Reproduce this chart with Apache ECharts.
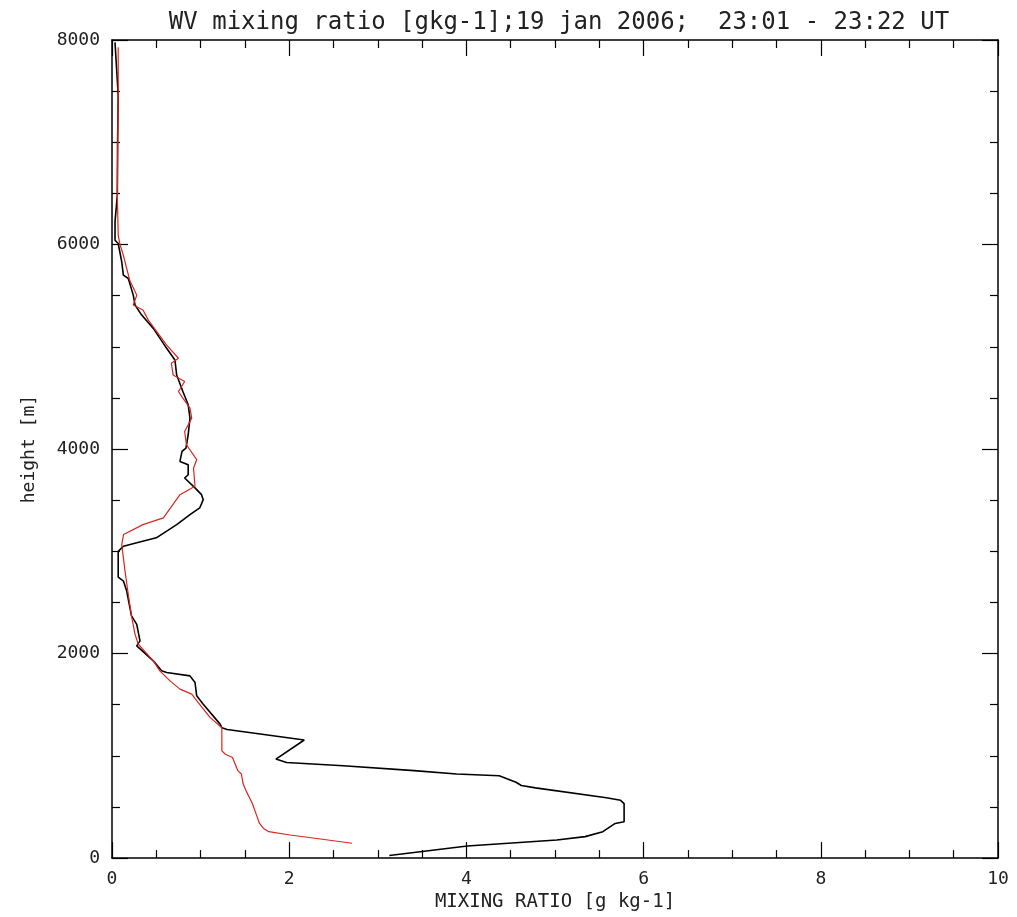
<!DOCTYPE html>
<html>
<head>
<meta charset="utf-8">
<script src="https://cdn.jsdelivr.net/npm/echarts@6/dist/echarts.min.js"></script>
<style>html,body{margin:0;padding:0;background:#fff;}#c{width:1017px;height:917px;}</style>
</head>
<body>
<div id="c"></div>
<script>
// Black profile (mixing ratio g/kg, height m), in path order
const blackRatio = [3.13,4.01,5.02,5.34,5.54,5.62,5.68,5.78,5.78,5.74,5.58,4.78,4.62,4.56,4.37,3.89,3.41,2.61,1.97,1.85,1.83,2.17,1.30,1.24,1.22,1.03,0.956,0.937,0.88,0.617,0.56,0.466,0.279,0.316,0.279,0.22,0.166,0.13,0.07,0.07,0.07,0.13,0.28,0.50,0.73,0.88,0.99,1.03,1.01,0.937,0.82,0.86,0.86,0.767,0.79,0.835,0.86,0.88,0.86,0.80,0.73,0.71,0.617,0.466,0.335,0.26,0.24,0.184,0.128,0.11,0.07,0.034,0.034,0.06,0.063,0.07,0.034];
const blackHeight = [26,119,177,210,258,306,339,355,532,565,590,687,710,742,806,823,855,903,935,968,984,1155,1258,1274,1310,1505,1587,1717,1782,1815,1831,1929,2075,2124,2286,2368,2611,2708,2748,2850,3000,3050,3083,3132,3261,3359,3424,3505,3554,3620,3717,3749,3846,3879,3977,4010,4140,4302,4433,4563,4725,4871,4985,5180,5310,5408,5505,5668,5700,5830,6010,6042,6221,6481,7002,7457,7977];
// Red profile
const redRatio = [2.71,2.29,2.01,1.77,1.71,1.665,1.625,1.585,1.54,1.52,1.48,1.46,1.42,1.36,1.28,1.24,1.24,1.106,0.956,0.90,0.767,0.655,0.54,0.466,0.297,0.26,0.22,0.184,0.147,0.11,0.13,0.35,0.58,0.767,0.937,0.92,0.956,0.84,0.82,0.90,0.88,0.80,0.75,0.82,0.69,0.67,0.75,0.617,0.41,0.35,0.24,0.28,0.20,0.128,0.09,0.07,0.06,0.065,0.07,0.07];
const redHeight = [145,194,226,258,290,339,435,532,613,645,726,823,855,984,1016,1048,1274,1376,1540,1603,1652,1733,1831,1929,2091,2188,2368,2578,2806,3066,3164,3261,3327,3554,3636,3815,3896,4042,4172,4302,4400,4498,4563,4660,4725,4839,4888,5017,5261,5359,5408,5505,5650,5895,6000,6091,6500,7000,7500,7928];
// Axis ticks
const xTicks = {min: 0, max: 10, interval: 2};
const yTicks = {min: 0, max: 8000, interval: 2000};
const titleText = 'WV mixing ratio [gkg-1];19 jan 2006;  23:01 - 23:22 UT';
const xName = 'MIXING RATIO [g kg-1]';
const yName = 'height [m]';

const zip = (xs, ys) => xs.map((v, i) => [v, ys[i]]);
const FONT = 'DejaVu Sans Mono';
const TXT = '#222';

function axisBase(extra) {
  return Object.assign({
    type: 'value',
    axisLine: {show: true, onZero: false, lineStyle: {color: '#000', width: 1.5}},
    axisTick: {show: true, inside: true, length: 16, lineStyle: {color: '#000', width: 1.2}},
    minorTick: {show: true, splitNumber: 4, length: 8, lineStyle: {color: '#000', width: 1.2}},
    splitLine: {show: false},
    minorSplitLine: {show: false}
  }, extra);
}

const chart = echarts.init(document.getElementById('c'), null, {renderer: 'canvas'});
chart.setOption({
  animation: false,
  backgroundColor: '#fff',
  title: {
    text: titleText,
    left: 554,
    textAlign: 'center',
    top: 6,
    textStyle: {fontFamily: FONT, fontSize: 24, fontWeight: 'normal', color: TXT}
  },
  grid: {left: 112, right: 19, top: 40, bottom: 56, containLabel: false},
  xAxis: [
    axisBase(Object.assign({}, xTicks, {
      position: 'bottom',
      name: xName, nameLocation: 'middle', nameGap: 32,
      nameTextStyle: {fontFamily: FONT, fontSize: 19, color: TXT},
      axisLabel: {fontFamily: FONT, fontSize: 18, color: TXT, margin: 12, formatter: v => String(v)}
    })),
    axisBase(Object.assign({}, xTicks, {position: 'top', axisLabel: {show: false}}))
  ],
  yAxis: [
    axisBase(Object.assign({}, yTicks, {
      position: 'left',
      name: yName, nameLocation: 'middle', nameGap: 74,
      nameTextStyle: {fontFamily: FONT, fontSize: 18, color: TXT},
      axisLabel: {fontFamily: FONT, fontSize: 18, color: TXT, margin: 12, formatter: v => String(v)}
    })),
    axisBase(Object.assign({}, yTicks, {position: 'right', axisLabel: {show: false}}))
  ],
  series: [
    {type: 'line', data: zip(blackRatio, blackHeight), showSymbol: false, symbol: 'none',
     lineStyle: {color: '#000', width: 1.6}, xAxisIndex: 0, yAxisIndex: 0, z: 2},
    {type: 'line', data: zip(redRatio, redHeight), showSymbol: false, symbol: 'none',
     lineStyle: {color: '#d8261e', width: 1.2}, xAxisIndex: 0, yAxisIndex: 0, z: 3}
  ]
});
</script>
</body>
</html>
